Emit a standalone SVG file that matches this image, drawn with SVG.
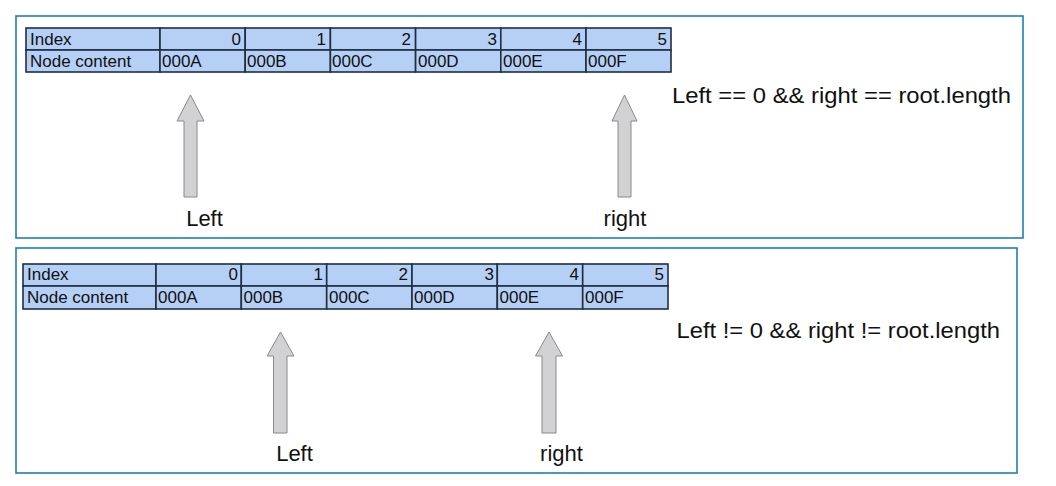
<svg xmlns="http://www.w3.org/2000/svg" width="1056" height="486" viewBox="0 0 1056 486">
<style>
.frame{fill:#ffffff;stroke:#1f80b4;stroke-width:1.6}
.cell{fill:#b5cff5;stroke:#1d2f45;stroke-width:1.6}
.t{font-family:"Liberation Sans",Arial,sans-serif;font-size:17px;fill:#111111}
.num{text-anchor:end}
.arrow{fill:#d2d2d4;stroke:#8a8a8a;stroke-width:1}
.lbl{font-family:"Liberation Sans",Arial,sans-serif;font-size:22px;fill:#111111;text-anchor:middle}
.cond{font-family:"Liberation Sans",Arial,sans-serif;font-size:21.5px;fill:#111111}
</style>
<rect width="1056" height="486" fill="#ffffff"/>
<g id="frame-top"><rect class="frame" x="16" y="16" width="1007" height="222"/></g>
<g id="frame-bottom"><rect class="frame" x="16" y="248" width="1001" height="225"/></g>

<g id="table-top">
<rect class="cell" x="26" y="28" width="134" height="22"/>
<rect class="cell" x="160" y="28" width="85.2" height="22"/>
<rect class="cell" x="245.2" y="28" width="85.2" height="22"/>
<rect class="cell" x="330.4" y="28" width="85.2" height="22"/>
<rect class="cell" x="415.6" y="28" width="85.2" height="22"/>
<rect class="cell" x="500.8" y="28" width="85.2" height="22"/>
<rect class="cell" x="586" y="28" width="85" height="22"/>
<rect class="cell" x="26" y="50" width="134" height="22"/>
<rect class="cell" x="160" y="50" width="85.2" height="22"/>
<rect class="cell" x="245.2" y="50" width="85.2" height="22"/>
<rect class="cell" x="330.4" y="50" width="85.2" height="22"/>
<rect class="cell" x="415.6" y="50" width="85.2" height="22"/>
<rect class="cell" x="500.8" y="50" width="85.2" height="22"/>
<rect class="cell" x="586" y="50" width="85" height="22"/>
<text class="t" x="30" y="45">Index</text>
<text class="t num" x="241" y="45">0</text>
<text class="t num" x="326" y="45">1</text>
<text class="t num" x="411" y="45">2</text>
<text class="t num" x="497" y="45">3</text>
<text class="t num" x="582" y="45">4</text>
<text class="t num" x="667" y="45">5</text>
<text class="t" x="30" y="67">Node content</text>
<text class="t" x="162" y="67">000A</text>
<text class="t" x="247" y="67">000B</text>
<text class="t" x="332" y="67">000C</text>
<text class="t" x="418" y="67">000D</text>
<text class="t" x="503" y="67">000E</text>
<text class="t" x="588" y="67">000F</text>
</g>

<g id="table-bottom">
<rect class="cell" x="23" y="264" width="133" height="22"/>
<rect class="cell" x="156" y="264" width="85.3" height="22"/>
<rect class="cell" x="241.3" y="264" width="85.4" height="22"/>
<rect class="cell" x="326.7" y="264" width="85.3" height="22"/>
<rect class="cell" x="412" y="264" width="85.3" height="22"/>
<rect class="cell" x="497.3" y="264" width="85.4" height="22"/>
<rect class="cell" x="582.7" y="264" width="85.3" height="22"/>
<rect class="cell" x="23" y="286" width="133" height="23"/>
<rect class="cell" x="156" y="286" width="85.3" height="23"/>
<rect class="cell" x="241.3" y="286" width="85.4" height="23"/>
<rect class="cell" x="326.7" y="286" width="85.3" height="23"/>
<rect class="cell" x="412" y="286" width="85.3" height="23"/>
<rect class="cell" x="497.3" y="286" width="85.4" height="23"/>
<rect class="cell" x="582.7" y="286" width="85.3" height="23"/>
<text class="t" x="27" y="280">Index</text>
<text class="t num" x="238" y="280">0</text>
<text class="t num" x="323" y="280">1</text>
<text class="t num" x="408" y="280">2</text>
<text class="t num" x="494" y="280">3</text>
<text class="t num" x="579" y="280">4</text>
<text class="t num" x="664" y="280">5</text>
<text class="t" x="27" y="302.5">Node content</text>
<text class="t" x="158" y="302.5">000A</text>
<text class="t" x="243.5" y="302.5">000B</text>
<text class="t" x="329" y="302.5">000C</text>
<text class="t" x="414" y="302.5">000D</text>
<text class="t" x="499.5" y="302.5">000E</text>
<text class="t" x="585" y="302.5">000F</text>
</g>

<g id="connectors">
<polygon id="arrow-left-top" class="arrow" points="190.5,95 204,121 197,121 197,197 184,197 184,121 177,121"/>
<polygon id="arrow-right-top" class="arrow" points="624.5,95 637,121 631,121 631,197 618,197 618,121 612,121"/>
<polygon id="arrow-left-bottom" class="arrow" points="280.5,332 294,356 287,356 287,433 273.5,433 273.5,356 267,356"/>
<polygon id="arrow-right-bottom" class="arrow" points="549,332 562.5,356 556,356 556,433 542,433 542,356 535.5,356"/>
</g>

<g id="label-left-top"><text class="lbl" x="204.5" y="226">Left</text></g>
<g id="label-right-top"><text class="lbl" x="625" y="226">right</text></g>
<g id="label-left-bottom"><text class="lbl" x="294.5" y="461">Left</text></g>
<g id="label-right-bottom"><text class="lbl" x="561.5" y="461">right</text></g>

<g id="cond-top"><text class="cond" x="672" y="103" textLength="339" lengthAdjust="spacingAndGlyphs">Left == 0 &amp;&amp; right == root.length</text></g>
<g id="cond-bottom"><text class="cond" x="676.5" y="337.5" textLength="323.5" lengthAdjust="spacingAndGlyphs">Left != 0 &amp;&amp; right != root.length</text></g>
</svg>
